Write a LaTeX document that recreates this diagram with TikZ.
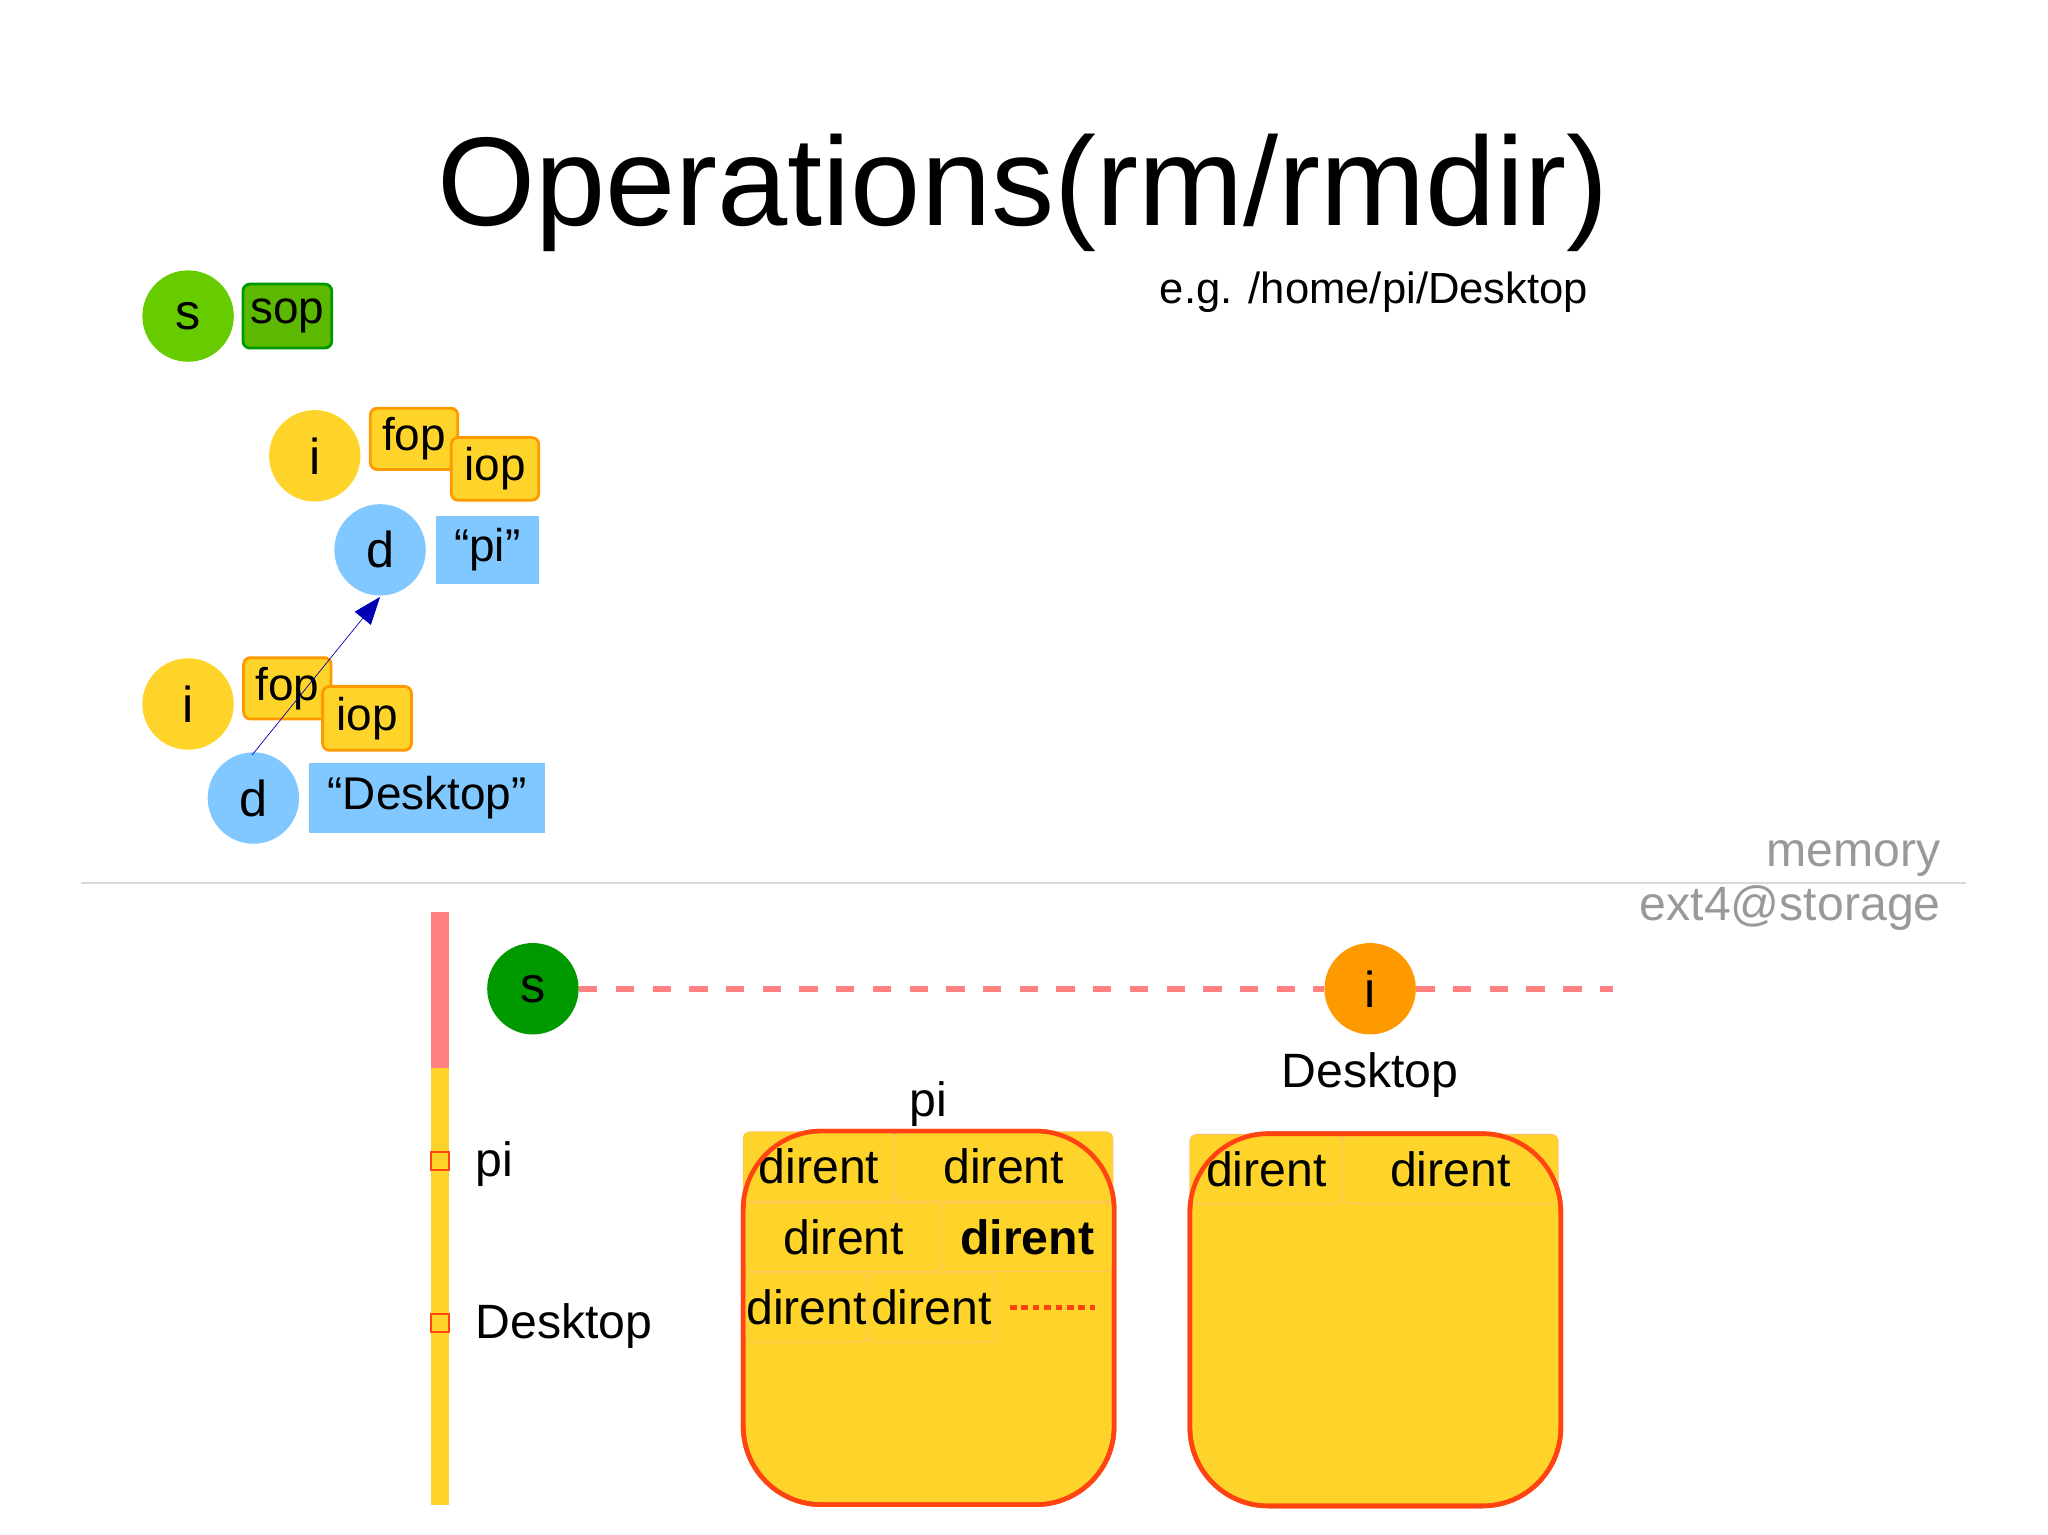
\documentclass[tikz,border=0pt]{standalone}
\usepackage{fontspec}
\setmainfont{Liberation Sans}
\usetikzlibrary{arrows.meta}
\definecolor{lgreen}{HTML}{66CC00}
\definecolor{dgreen}{HTML}{009900}
\definecolor{yel}{HTML}{FFD42A}
\definecolor{org}{HTML}{FF9900}
\definecolor{redb}{HTML}{FF4411}
\definecolor{lblue}{HTML}{80C8FF}
\definecolor{pink}{HTML}{FF8080}
\begin{document}
\begin{tikzpicture}[x=0.02cm,y=-0.02cm,
  circ/.style={circle,minimum size=1.4cm,inner sep=0pt,font=\fontsize{22}{24}\selectfont},
  opbox/.style={draw=org,fill=yel,line width=1.2pt,rounded corners=3pt,font=\fontsize{20}{22}\selectfont,inner sep=0pt},
  namebox/.style={fill=lblue,font=\fontsize{20}{22}\selectfont,inner sep=0pt},
  cell/.style={draw=org!60,fill=yel,line width=0.4pt,rounded corners=3pt,font=\fontsize{21}{23}\selectfont,inner sep=0pt},
  bigbox/.style={draw=redb,fill=yel,line width=2pt,rounded corners=1.2cm},
  lbl/.style={font=\fontsize{21}{23}\selectfont}]
\useasboundingbox (0,0) rectangle (1568,1175);

\node[font=\fontsize{55}{60}\selectfont] at (783,148) {Operations(rm/rmdir)};
\node[font=\fontsize{19}{21}\selectfont] at (1052,224) {e.g. /home/pi/Desktop};

% memory objects
\node[circ,fill=lgreen] (s1) at (144,242) {s};
\node[draw=dgreen,fill=lgreen!90!black,line width=1.2pt,rounded corners=3pt,minimum width=1.36cm,minimum height=0.98cm,inner sep=0pt,font=\fontsize{20}{22}\selectfont] (sop) at (220,242) {sop};

\node[circ,fill=yel] (i1) at (241,349) {i};
\node[opbox,minimum width=1.34cm,minimum height=0.94cm] (fop1) at (317,336) {fop};
\node[opbox,minimum width=1.34cm,minimum height=0.96cm] (iop1) at (379,359) {iop};
\node[circ,fill=lblue] (d1) at (291,421) {d};
\node[namebox,minimum width=1.58cm,minimum height=1.04cm] (n1) at (373,421) {“pi”};

\node[circ,fill=yel] (i2) at (144,539) {i};
\node[opbox,minimum width=1.34cm,minimum height=0.94cm] (fop2) at (220,527) {fop};
\node[opbox,minimum width=1.36cm,minimum height=0.98cm] (iop2) at (281,550) {iop};
\node[circ,fill=lblue] (d2) at (194,611) {d};
\node[namebox,minimum width=3.62cm,minimum height=1.06cm] (n2) at (327,611) {“Desktop”};

\coordinate (a0) at (193,578);
\coordinate (a1) at (291,457);
\draw[blue!70!black,line width=0.3pt,-{Triangle[length=12pt,width=9pt]}] (a0) -- (a1);

% separator
\draw[gray!30,line width=0.6pt] (62,676) -- (1505,676);
\node[lbl,text=gray!80,anchor=east] at (1492,657) {memory};
\node[lbl,text=gray!80,anchor=east] at (1492,695) {ext4@storage};

% storage
\fill[pink] (330,698) rectangle (344,818);
\fill[yel] (330,818) rectangle (344,1152);
\draw[redb,line width=1pt,fill=yel] (330,882) rectangle (344,896);
\draw[redb,line width=1pt,fill=yel] (330,1006) rectangle (344,1020);
\node[lbl,anchor=west] at (358,891) {pi};
\node[lbl,anchor=west] at (358,1015) {Desktop};

\node[circ,fill=dgreen] (s2) at (408,757) {s};
\node[circ,fill=org] (i3) at (1049,757) {i};
\coordinate (dend) at (1235,757);
\draw[pink,line width=2.5pt,dash pattern=on 8pt off 8pt] (s2) -- (i3);
\draw[pink,line width=2.5pt,dash pattern=on 8pt off 8pt] (i3) -- (dend);

\node[lbl] at (711,845) {pi};
\node[lbl] at (1049,823) {Desktop};

\draw[bigbox] (569,866) rectangle (853,1152);
\node[cell,minimum width=2.32cm,minimum height=1.06cm] at (627,893) {dirent};
\node[cell,minimum width=3.34cm,minimum height=1.06cm] at (768.5,893) {dirent};
\node[cell,minimum width=3cm,minimum height=1.06cm] at (646,947) {dirent};
\node[cell,minimum width=2.62cm,minimum height=1.06cm,font=\fontsize{21}{23}\selectfont\bfseries] at (786.5,947) {dirent};
\node[cell,minimum width=1.86cm,minimum height=1.06cm] at (617.5,1001) {dirent};
\node[cell,minimum width=1.96cm,minimum height=1.06cm] at (713,1001) {dirent};
\draw[redb,line width=2pt,dash pattern=on 3pt off 2pt] (773,1001) -- (838,1001);
\draw[redb,line width=2pt,rounded corners=1.2cm] (569,866) rectangle (853,1152);

\draw[bigbox] (911,868) rectangle (1195,1153);
\node[cell,minimum width=2.34cm,minimum height=1.06cm] at (969.5,895) {dirent};
\node[cell,minimum width=3.3cm,minimum height=1.06cm] at (1110.5,895) {dirent};
\draw[redb,line width=2pt,rounded corners=1.2cm] (911,868) rectangle (1195,1153);
\end{tikzpicture}
\end{document}
